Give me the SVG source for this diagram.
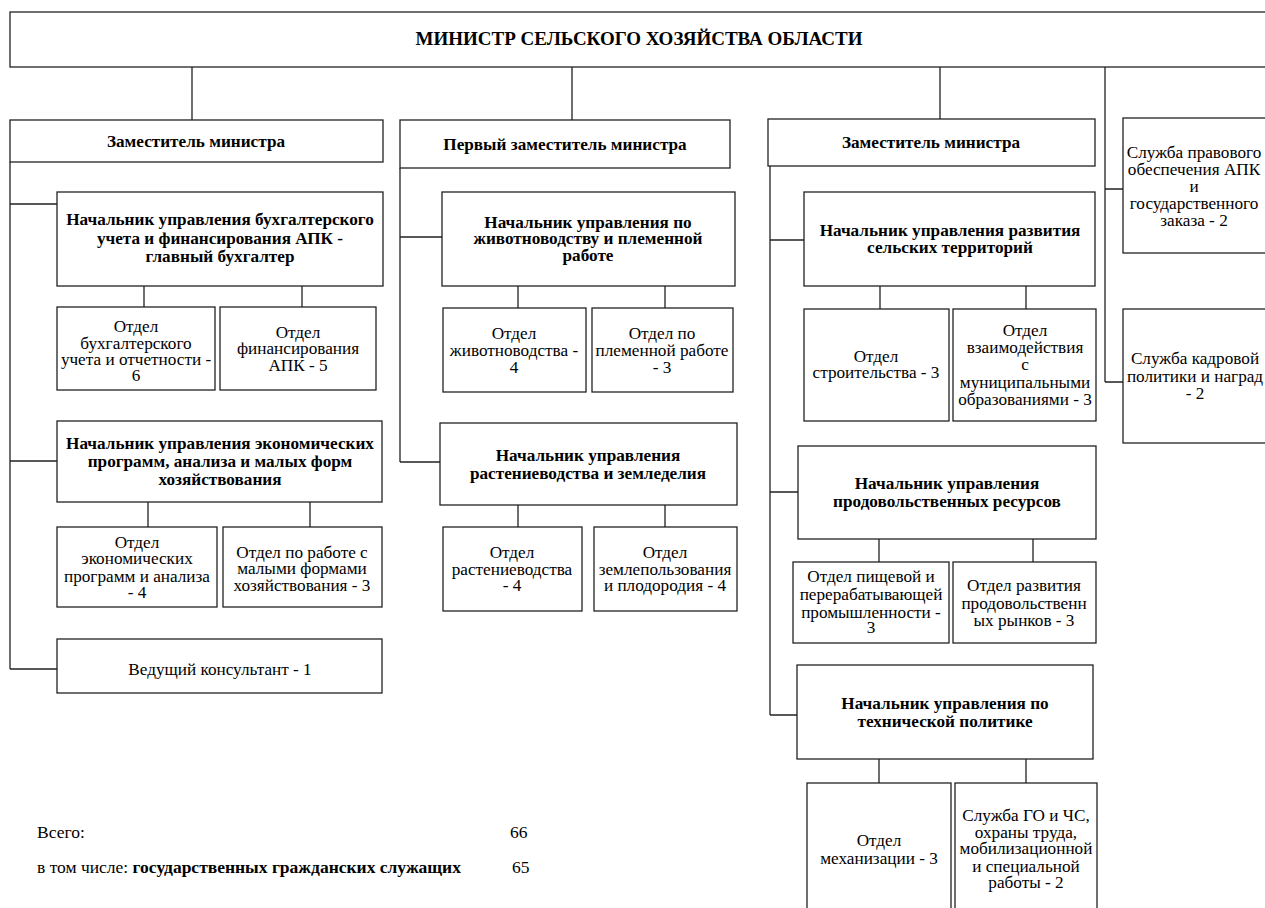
<svg xmlns="http://www.w3.org/2000/svg" width="1265" height="908" viewBox="0 0 1265 908" font-family="'Liberation Serif', 'DejaVu Serif', serif">
<style>
.b{fill:#fff;stroke:#222;stroke-width:1.3}
.c{fill:none;stroke:#222;stroke-width:1.3}
text{font-family:'Liberation Serif','DejaVu Serif',serif;fill:#000}
.t{font-size:17.2px;text-anchor:middle}
.tb{font-size:17.2px;font-weight:bold;text-anchor:middle}
.f{font-size:17.5px}
</style>
<rect width="1265" height="908" fill="#fff"/>
<g id="connectors">
<path class="c" d="M192,67V120M572,67V120M940,67V119M1105,67V382M1105,189H1123M1105,382H1123"/>
<path class="c" d="M10,162V669M10,204H57M10,461H57M10,669H57M144,286V307M302,286V307M148,502V527M310,502V527"/>
<path class="c" d="M400,168V462M400,237H442M400,462H440M518,286V308M665,286V308M518,505V527M665,505V527"/>
<path class="c" d="M770,166V715M770,240H804M770,492H798M770,715H797M880,286V309M1026,286V309M879,539V562M1033,539V562M879,759V783M1026,759V783"/>
</g>
<g id="minister"><rect class="b" x="10" y="12" width="1270" height="55"/><text class="tb" style="font-size:19px" x="639" y="45">МИНИСТР СЕЛЬСКОГО ХОЗЯЙСТВА ОБЛАСТИ</text></g>
<g id="dep1"><rect class="b" x="10" y="120" width="373" height="42"/><text class="tb" x="196" y="147">Заместитель министра</text></g>
<g id="dep2"><rect class="b" x="400" y="120" width="330" height="48"/><text class="tb" x="565" y="150">Первый заместитель министра</text></g>
<g id="dep3"><rect class="b" x="768" y="119" width="327" height="47"/><text class="tb" x="931" y="148">Заместитель министра</text></g>
<g id="buh"><rect class="b" x="57" y="192" width="326" height="94"/><text class="tb"><tspan x="220" y="225">Начальник управления бухгалтерского</tspan><tspan x="220" y="244">учета и финансирования АПК -</tspan><tspan x="220" y="262">главный бухгалтер</tspan></text></g>
<g id="buh1"><rect class="b" x="57" y="307" width="158" height="83"/><text class="t"><tspan x="136" y="332">Отдел</tspan><tspan x="136" y="349">бухгалтерского</tspan><tspan x="136" y="365">учета и отчетности -</tspan><tspan x="136" y="381">6</tspan></text></g>
<g id="buh2"><rect class="b" x="220" y="307" width="156" height="83"/><text class="t"><tspan x="298" y="338">Отдел</tspan><tspan x="298" y="354">финансирования</tspan><tspan x="298" y="371">АПК - 5</tspan></text></g>
<g id="econ"><rect class="b" x="57" y="421" width="325" height="81"/><text class="tb"><tspan x="220" y="449">Начальник управления экономических</tspan><tspan x="220" y="467">программ, анализа и малых форм</tspan><tspan x="220" y="485">хозяйствования</tspan></text></g>
<g id="econ1"><rect class="b" x="57" y="527" width="160" height="80"/><text class="t"><tspan x="137" y="548">Отдел</tspan><tspan x="137" y="564">экономических</tspan><tspan x="137" y="582">программ и анализа</tspan><tspan x="137" y="598">- 4</tspan></text></g>
<g id="econ2"><rect class="b" x="223" y="527" width="159" height="80"/><text class="t"><tspan x="302" y="558">Отдел по работе с</tspan><tspan x="302" y="574">малыми формами</tspan><tspan x="302" y="591">хозяйствования - 3</tspan></text></g>
<g id="consult"><rect class="b" x="57" y="639" width="325" height="54"/><text class="t" x="220" y="675">Ведущий консультант - 1</text></g>
<g id="zhiv"><rect class="b" x="442" y="192" width="293" height="94"/><text class="tb"><tspan x="588" y="228">Начальник управления по</tspan><tspan x="588" y="244">животноводству и племенной</tspan><tspan x="588" y="261">работе</tspan></text></g>
<g id="zhiv1"><rect class="b" x="443" y="308" width="143" height="84"/><text class="t"><tspan x="514" y="339">Отдел</tspan><tspan x="514" y="356">животноводства -</tspan><tspan x="514" y="373">4</tspan></text></g>
<g id="zhiv2"><rect class="b" x="592" y="308" width="141" height="84"/><text class="t"><tspan x="662" y="339">Отдел по</tspan><tspan x="662" y="356">племенной работе</tspan><tspan x="662" y="373">- 3</tspan></text></g>
<g id="rast"><rect class="b" x="440" y="423" width="297" height="82"/><text class="tb"><tspan x="588" y="461">Начальник управления</tspan><tspan x="588" y="479">растениеводства и земледелия</tspan></text></g>
<g id="rast1"><rect class="b" x="443" y="527" width="139" height="84"/><text class="t"><tspan x="512" y="558">Отдел</tspan><tspan x="512" y="575">растениеводства</tspan><tspan x="512" y="591">- 4</tspan></text></g>
<g id="rast2"><rect class="b" x="594" y="527" width="143" height="84"/><text class="t"><tspan x="665" y="558">Отдел</tspan><tspan x="665" y="575">землепользования</tspan><tspan x="665" y="591">и плодородия - 4</tspan></text></g>
<g id="selter"><rect class="b" x="804" y="192" width="291" height="94"/><text class="tb"><tspan x="950" y="236">Начальник управления развития</tspan><tspan x="950" y="253">сельских территорий</tspan></text></g>
<g id="selter1"><rect class="b" x="804" y="309" width="145" height="112"/><text class="t"><tspan x="876" y="362">Отдел</tspan><tspan x="876" y="378">строительства - 3</tspan></text></g>
<g id="selter2"><rect class="b" x="953" y="309" width="143" height="112"/><text class="t"><tspan x="1025" y="336">Отдел</tspan><tspan x="1025" y="353">взаимодействия</tspan><tspan x="1025" y="370">с</tspan><tspan x="1025" y="388">муниципальными</tspan><tspan x="1025" y="405">образованиями - 3</tspan></text></g>
<g id="prod"><rect class="b" x="798" y="446" width="298" height="93"/><text class="tb"><tspan x="947" y="489">Начальник управления</tspan><tspan x="947" y="507">продовольственных ресурсов</tspan></text></g>
<g id="prod1"><rect class="b" x="793" y="562" width="156" height="81"/><text class="t"><tspan x="871" y="582">Отдел пищевой и</tspan><tspan x="871" y="600">перерабатывающей</tspan><tspan x="871" y="618">промышленности -</tspan><tspan x="871" y="633">3</tspan></text></g>
<g id="prod2"><rect class="b" x="953" y="562" width="143" height="81"/><text class="t"><tspan x="1024" y="591">Отдел развития</tspan><tspan x="1024" y="609">продовольственн</tspan><tspan x="1024" y="626">ых рынков - 3</tspan></text></g>
<g id="tech"><rect class="b" x="797" y="665" width="296" height="94"/><text class="tb"><tspan x="945" y="709">Начальник управления по</tspan><tspan x="945" y="727">технической политике</tspan></text></g>
<g id="tech1"><rect class="b" x="807" y="783" width="144" height="135"/><text class="t"><tspan x="879" y="846">Отдел</tspan><tspan x="879" y="864">механизации - 3</tspan></text></g>
<g id="tech2"><rect class="b" x="955" y="783" width="142" height="135"/><text class="t"><tspan x="1026" y="821">Служба ГО и ЧС,</tspan><tspan x="1026" y="838">охраны труда,</tspan><tspan x="1026" y="854">мобилизационной</tspan><tspan x="1026" y="872">и специальной</tspan><tspan x="1026" y="888">работы - 2</tspan></text></g>
<g id="legal"><rect class="b" x="1123" y="118" width="152" height="135"/><text class="t"><tspan x="1194" y="158">Служба правового</tspan><tspan x="1194" y="175">обеспечения АПК</tspan><tspan x="1194" y="192">и</tspan><tspan x="1194" y="209">государственного</tspan><tspan x="1194" y="226">заказа - 2</tspan></text></g>
<g id="hr"><rect class="b" x="1123" y="309" width="152" height="134"/><text class="t"><tspan x="1195" y="364">Служба кадровой</tspan><tspan x="1195" y="382">политики и наград</tspan><tspan x="1195" y="399">- 2</tspan></text></g>
<g id="totals">
<text class="f" x="37" y="838">Всего:</text><text class="f" x="510" y="838">66</text>
<text class="f" x="37" y="873">в том числе: <tspan font-weight="bold">государственных гражданских служащих</tspan></text><text class="f" x="512" y="873">65</text>
</g>
</svg>
